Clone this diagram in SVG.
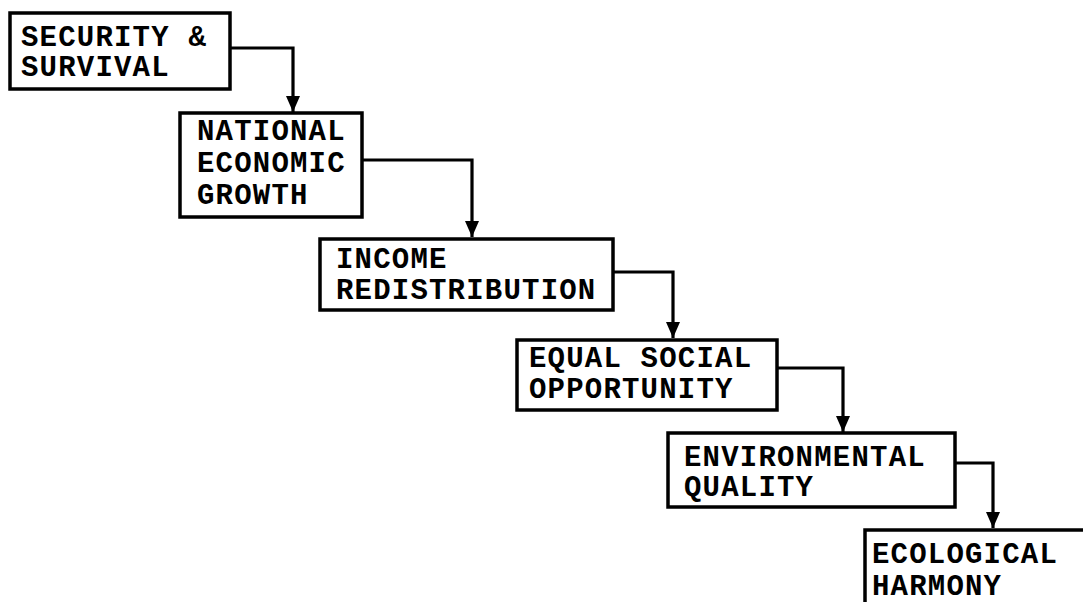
<svg xmlns="http://www.w3.org/2000/svg" width="1083" height="602" viewBox="0 0 1083 602">
<style>
.box{fill:#fff;stroke:#000;stroke-width:3.5}
.lbl{font-family:"Liberation Mono","DejaVu Sans Mono",monospace;font-size:29px;font-weight:bold;letter-spacing:1.2px;fill:#000}
.con{fill:none;stroke:#000;stroke-width:3.2}
</style>
<defs>
<marker id="ah" viewBox="0 0 16 14" refX="16" refY="7" markerWidth="16" markerHeight="14" markerUnits="userSpaceOnUse" orient="auto">
<path d="M0,0 L16,7 L0,14 Z" fill="#000"/>
</marker>
</defs>
<rect width="1083" height="602" fill="#fff"/>
<g id="connectors">
<path class="con" d="M230,48 H293 V112" marker-end="url(#ah)"/>
<path class="con" d="M362,160 H472 V237" marker-end="url(#ah)"/>
<path class="con" d="M613,272 H673 V338" marker-end="url(#ah)"/>
<path class="con" d="M777,368 H843 V432" marker-end="url(#ah)"/>
<path class="con" d="M955,463 H993 V528" marker-end="url(#ah)"/>
</g>
<g id="n1"><rect class="box" x="10" y="13" width="220" height="76"/>
<text class="lbl" x="21" y="46">SECURITY &amp;</text><text class="lbl" x="21" y="76">SURVIVAL</text></g>
<g id="n2"><rect class="box" x="180" y="113" width="182" height="104"/>
<text class="lbl" x="197" y="140">NATIONAL</text><text class="lbl" x="197" y="172">ECONOMIC</text><text class="lbl" x="197" y="204">GROWTH</text></g>
<g id="n3"><rect class="box" x="320" y="239" width="293" height="71"/>
<text class="lbl" x="336" y="268">INCOME</text><text class="lbl" x="336" y="299">REDISTRIBUTION</text></g>
<g id="n4"><rect class="box" x="517" y="340" width="260" height="70"/>
<text class="lbl" x="529" y="367">EQUAL SOCIAL</text><text class="lbl" x="529" y="398">OPPORTUNITY</text></g>
<g id="n5"><rect class="box" x="668" y="433" width="287" height="74"/>
<text class="lbl" x="684" y="466">ENVIRONMENTAL</text><text class="lbl" x="684" y="496">QUALITY</text></g>
<g id="n6"><rect class="box" x="865" y="530" width="240" height="90"/>
<text class="lbl" x="872" y="563">ECOLOGICAL</text><text class="lbl" x="872" y="595">HARMONY</text></g>
</svg>
